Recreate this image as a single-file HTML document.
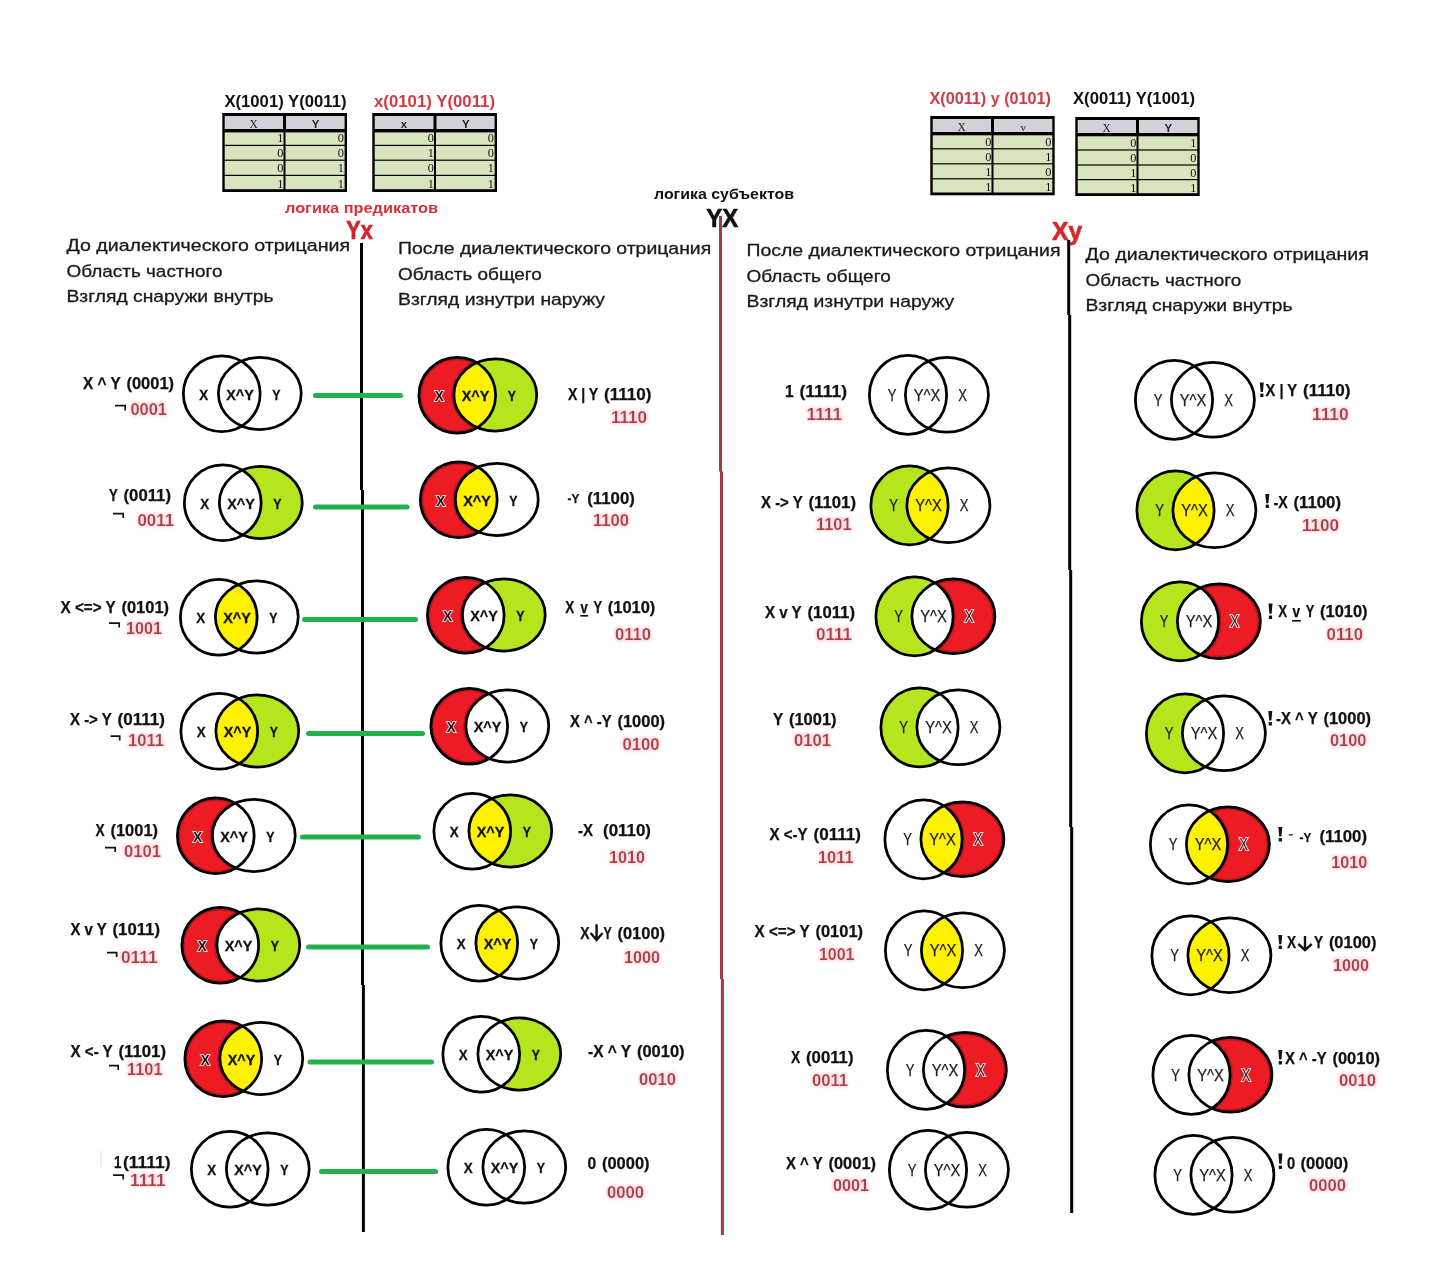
<!DOCTYPE html>
<html lang="ru">
<head>
<meta charset="utf-8">
<title>Логика предикатов и логика субъектов</title>
<style>
html, body { margin: 0; padding: 0; background: #ffffff; }
body { width: 1448px; height: 1263px; overflow: hidden; font-family: "Liberation Sans", sans-serif; }
svg { display: block; opacity: 0.9999; }
text { white-space: pre; }
</style>
</head>
<body>
<svg width="1448" height="1263" viewBox="0 0 1448 1263">
<defs>
<filter id="glow" x="-20%" y="-50%" width="140%" height="200%">
<feMorphology in="SourceAlpha" operator="dilate" radius="0.9" result="d"/>
<feGaussianBlur in="d" stdDeviation="1.5" result="b"/>
<feColorMatrix in="b" type="matrix" values="0 0 0 0 1  0 0 0 0 0.74  0 0 0 0 0.77  0 0 0 1.6 0" result="g"/>
<feMerge><feMergeNode in="g"/><feMergeNode in="SourceGraphic"/></feMerge>
</filter>
<clipPath id="c2"><ellipse cx="222.75" cy="502.75" rx="38.38" ry="37.88"/></clipPath>
<clipPath id="d2"><ellipse cx="260.80" cy="502.50" rx="41.42" ry="36.03"/></clipPath>
<clipPath id="c3"><ellipse cx="218.75" cy="617.25" rx="38.38" ry="37.88"/></clipPath>
<clipPath id="d3"><ellipse cx="256.80" cy="617.00" rx="41.42" ry="36.03"/></clipPath>
<clipPath id="c4"><ellipse cx="219.25" cy="731.25" rx="38.38" ry="37.88"/></clipPath>
<clipPath id="d4"><ellipse cx="257.30" cy="731.00" rx="41.42" ry="36.03"/></clipPath>
<clipPath id="c5"><ellipse cx="215.75" cy="835.75" rx="38.38" ry="37.88"/></clipPath>
<clipPath id="d5"><ellipse cx="253.80" cy="835.50" rx="41.42" ry="36.03"/></clipPath>
<clipPath id="c6"><ellipse cx="220.25" cy="945.25" rx="38.38" ry="37.88"/></clipPath>
<clipPath id="d6"><ellipse cx="258.30" cy="945.00" rx="41.42" ry="36.03"/></clipPath>
<clipPath id="c7"><ellipse cx="223.25" cy="1058.75" rx="38.38" ry="37.88"/></clipPath>
<clipPath id="d7"><ellipse cx="261.30" cy="1058.50" rx="41.42" ry="36.03"/></clipPath>
<clipPath id="c9"><ellipse cx="457.25" cy="395.25" rx="38.38" ry="37.88"/></clipPath>
<clipPath id="d9"><ellipse cx="495.30" cy="395.00" rx="41.42" ry="36.03"/></clipPath>
<clipPath id="c10"><ellipse cx="458.75" cy="499.75" rx="38.38" ry="37.88"/></clipPath>
<clipPath id="d10"><ellipse cx="496.80" cy="499.50" rx="41.42" ry="36.03"/></clipPath>
<clipPath id="c11"><ellipse cx="465.75" cy="615.25" rx="38.38" ry="37.88"/></clipPath>
<clipPath id="d11"><ellipse cx="503.80" cy="615.00" rx="41.42" ry="36.03"/></clipPath>
<clipPath id="c12"><ellipse cx="469.25" cy="726.25" rx="38.38" ry="37.88"/></clipPath>
<clipPath id="d12"><ellipse cx="507.30" cy="726.00" rx="41.42" ry="36.03"/></clipPath>
<clipPath id="c13"><ellipse cx="472.25" cy="831.25" rx="38.38" ry="37.88"/></clipPath>
<clipPath id="d13"><ellipse cx="510.30" cy="831.00" rx="41.42" ry="36.03"/></clipPath>
<clipPath id="c14"><ellipse cx="479.25" cy="943.25" rx="38.38" ry="37.88"/></clipPath>
<clipPath id="d14"><ellipse cx="517.30" cy="943.00" rx="41.42" ry="36.03"/></clipPath>
<clipPath id="c15"><ellipse cx="481.25" cy="1054.25" rx="38.38" ry="37.88"/></clipPath>
<clipPath id="d15"><ellipse cx="519.30" cy="1054.00" rx="41.42" ry="36.03"/></clipPath>
<clipPath id="c18"><ellipse cx="909.50" cy="505.40" rx="38.62" ry="39.42"/></clipPath>
<clipPath id="d18"><ellipse cx="948.40" cy="505.30" rx="41.52" ry="37.33"/></clipPath>
<clipPath id="c19"><ellipse cx="914.50" cy="616.40" rx="38.62" ry="39.42"/></clipPath>
<clipPath id="d19"><ellipse cx="953.40" cy="616.30" rx="41.52" ry="37.33"/></clipPath>
<clipPath id="c20"><ellipse cx="919.50" cy="727.40" rx="38.62" ry="39.42"/></clipPath>
<clipPath id="d20"><ellipse cx="958.40" cy="727.30" rx="41.52" ry="37.33"/></clipPath>
<clipPath id="c21"><ellipse cx="923.50" cy="839.40" rx="38.62" ry="39.42"/></clipPath>
<clipPath id="d21"><ellipse cx="962.40" cy="839.30" rx="41.52" ry="37.33"/></clipPath>
<clipPath id="c22"><ellipse cx="924.00" cy="950.40" rx="38.62" ry="39.42"/></clipPath>
<clipPath id="d22"><ellipse cx="962.90" cy="950.30" rx="41.52" ry="37.33"/></clipPath>
<clipPath id="c23"><ellipse cx="926.00" cy="1069.90" rx="38.62" ry="39.42"/></clipPath>
<clipPath id="d23"><ellipse cx="964.90" cy="1069.80" rx="41.52" ry="37.33"/></clipPath>
<clipPath id="c26"><ellipse cx="1175.50" cy="510.40" rx="38.62" ry="39.42"/></clipPath>
<clipPath id="d26"><ellipse cx="1214.40" cy="510.30" rx="41.52" ry="37.33"/></clipPath>
<clipPath id="c27"><ellipse cx="1180.00" cy="621.40" rx="38.62" ry="39.42"/></clipPath>
<clipPath id="d27"><ellipse cx="1218.90" cy="621.30" rx="41.52" ry="37.33"/></clipPath>
<clipPath id="c28"><ellipse cx="1185.00" cy="733.40" rx="38.62" ry="39.42"/></clipPath>
<clipPath id="d28"><ellipse cx="1223.90" cy="733.30" rx="41.52" ry="37.33"/></clipPath>
<clipPath id="c29"><ellipse cx="1189.00" cy="844.40" rx="38.62" ry="39.42"/></clipPath>
<clipPath id="d29"><ellipse cx="1227.90" cy="844.30" rx="41.52" ry="37.33"/></clipPath>
<clipPath id="c30"><ellipse cx="1190.50" cy="955.40" rx="38.62" ry="39.42"/></clipPath>
<clipPath id="d30"><ellipse cx="1229.40" cy="955.30" rx="41.52" ry="37.33"/></clipPath>
<clipPath id="c31"><ellipse cx="1191.50" cy="1074.90" rx="38.62" ry="39.42"/></clipPath>
<clipPath id="d31"><ellipse cx="1230.40" cy="1074.80" rx="41.52" ry="37.33"/></clipPath>
</defs>
<rect x="0" y="0" width="1448" height="1263" fill="#ffffff"/>
<rect x="222.3" y="113" width="124.69999999999999" height="79" fill="#000"/>
<rect x="224.70000000000002" y="116" width="58.29999999999999" height="13" fill="#d4d2d9"/>
<rect x="286" y="116" width="58.60000000000002" height="13" fill="#d4d2d9"/>
<rect x="224.70000000000002" y="132.40" width="58.80" height="12.40" fill="#d7e4bd"/>
<rect x="285.50" y="132.40" width="59.10" height="12.40" fill="#d7e4bd"/>
<text x="283.40" y="142.40" text-anchor="end" font-family="Liberation Serif" font-size="12.3" fill="#111">1</text>
<text x="343.80" y="142.40" text-anchor="end" font-family="Liberation Serif" font-size="12.3" fill="#111">0</text>
<rect x="224.70000000000002" y="146.00" width="58.80" height="13.60" fill="#d7e4bd"/>
<rect x="285.50" y="146.00" width="59.10" height="13.60" fill="#d7e4bd"/>
<text x="283.40" y="157.20" text-anchor="end" font-family="Liberation Serif" font-size="12.3" fill="#111">0</text>
<text x="343.80" y="157.20" text-anchor="end" font-family="Liberation Serif" font-size="12.3" fill="#111">0</text>
<rect x="224.70000000000002" y="160.80" width="58.80" height="14.00" fill="#d7e4bd"/>
<rect x="285.50" y="160.80" width="59.10" height="14.00" fill="#d7e4bd"/>
<text x="283.40" y="172.40" text-anchor="end" font-family="Liberation Serif" font-size="12.3" fill="#111">0</text>
<text x="343.80" y="172.40" text-anchor="end" font-family="Liberation Serif" font-size="12.3" fill="#111">1</text>
<rect x="224.70000000000002" y="176.00" width="58.80" height="13.20" fill="#d7e4bd"/>
<rect x="285.50" y="176.00" width="59.10" height="13.20" fill="#d7e4bd"/>
<text x="283.40" y="187.60" text-anchor="end" font-family="Liberation Serif" font-size="12.3" fill="#111">1</text>
<text x="343.80" y="187.60" text-anchor="end" font-family="Liberation Serif" font-size="12.3" fill="#111">1</text>
<text x="253.65" y="128.10" text-anchor="middle" font-family="Liberation Serif" font-size="11.5" font-weight="normal" fill="#222">X</text>
<text x="315.50" y="128.10" text-anchor="middle" font-family="Liberation Sans" font-size="11.5" font-weight="bold" fill="#222">Y</text>
<rect x="372.3" y="113" width="124.69999999999999" height="79" fill="#000"/>
<rect x="374.7" y="116" width="58.79999999999999" height="13" fill="#d4d2d9"/>
<rect x="436.5" y="116" width="58.10000000000002" height="13" fill="#d4d2d9"/>
<rect x="374.7" y="132.40" width="59.30" height="12.40" fill="#d7e4bd"/>
<rect x="436.00" y="132.40" width="58.60" height="12.40" fill="#d7e4bd"/>
<text x="433.90" y="142.40" text-anchor="end" font-family="Liberation Serif" font-size="12.3" fill="#111">0</text>
<text x="493.80" y="142.40" text-anchor="end" font-family="Liberation Serif" font-size="12.3" fill="#111">0</text>
<rect x="374.7" y="146.00" width="59.30" height="13.60" fill="#d7e4bd"/>
<rect x="436.00" y="146.00" width="58.60" height="13.60" fill="#d7e4bd"/>
<text x="433.90" y="157.20" text-anchor="end" font-family="Liberation Serif" font-size="12.3" fill="#111">1</text>
<text x="493.80" y="157.20" text-anchor="end" font-family="Liberation Serif" font-size="12.3" fill="#111">0</text>
<rect x="374.7" y="160.80" width="59.30" height="14.00" fill="#d7e4bd"/>
<rect x="436.00" y="160.80" width="58.60" height="14.00" fill="#d7e4bd"/>
<text x="433.90" y="172.40" text-anchor="end" font-family="Liberation Serif" font-size="12.3" fill="#111">0</text>
<text x="493.80" y="172.40" text-anchor="end" font-family="Liberation Serif" font-size="12.3" fill="#111">1</text>
<rect x="374.7" y="176.00" width="59.30" height="13.20" fill="#d7e4bd"/>
<rect x="436.00" y="176.00" width="58.60" height="13.20" fill="#d7e4bd"/>
<text x="433.90" y="187.60" text-anchor="end" font-family="Liberation Serif" font-size="12.3" fill="#111">1</text>
<text x="493.80" y="187.60" text-anchor="end" font-family="Liberation Serif" font-size="12.3" fill="#111">1</text>
<text x="403.90" y="128.10" text-anchor="middle" font-family="Liberation Sans" font-size="11.5" font-weight="bold" fill="#222">x</text>
<text x="465.75" y="128.10" text-anchor="middle" font-family="Liberation Sans" font-size="11.5" font-weight="bold" fill="#222">Y</text>
<rect x="930.3" y="116" width="124.40000000000009" height="79.30000000000001" fill="#000"/>
<rect x="932.6999999999999" y="119" width="58.30000000000005" height="13" fill="#d4d2d9"/>
<rect x="994" y="119" width="58.299999999999955" height="13" fill="#d4d2d9"/>
<rect x="932.6999999999999" y="135.30" width="58.80" height="12.90" fill="#d7e4bd"/>
<rect x="993.50" y="135.30" width="58.80" height="12.90" fill="#d7e4bd"/>
<text x="991.40" y="145.80" text-anchor="end" font-family="Liberation Serif" font-size="12.3" fill="#111">0</text>
<text x="1051.50" y="145.80" text-anchor="end" font-family="Liberation Serif" font-size="12.3" fill="#111">0</text>
<rect x="932.6999999999999" y="149.40" width="58.80" height="13.80" fill="#d7e4bd"/>
<rect x="993.50" y="149.40" width="58.80" height="13.80" fill="#d7e4bd"/>
<text x="991.40" y="160.80" text-anchor="end" font-family="Liberation Serif" font-size="12.3" fill="#111">0</text>
<text x="1051.50" y="160.80" text-anchor="end" font-family="Liberation Serif" font-size="12.3" fill="#111">1</text>
<rect x="932.6999999999999" y="164.40" width="58.80" height="13.80" fill="#d7e4bd"/>
<rect x="993.50" y="164.40" width="58.80" height="13.80" fill="#d7e4bd"/>
<text x="991.40" y="175.80" text-anchor="end" font-family="Liberation Serif" font-size="12.3" fill="#111">1</text>
<text x="1051.50" y="175.80" text-anchor="end" font-family="Liberation Serif" font-size="12.3" fill="#111">0</text>
<rect x="932.6999999999999" y="179.40" width="58.80" height="13.10" fill="#d7e4bd"/>
<rect x="993.50" y="179.40" width="58.80" height="13.10" fill="#d7e4bd"/>
<text x="991.40" y="190.90" text-anchor="end" font-family="Liberation Serif" font-size="12.3" fill="#111">1</text>
<text x="1051.50" y="190.90" text-anchor="end" font-family="Liberation Serif" font-size="12.3" fill="#111">1</text>
<text x="961.65" y="131.10" text-anchor="middle" font-family="Liberation Serif" font-size="11.5" font-weight="normal" fill="#222">X</text>
<text x="1023.35" y="131.10" text-anchor="middle" font-family="Liberation Serif" font-size="11" font-weight="normal" fill="#222">v</text>
<rect x="1075.3" y="117" width="124.40000000000009" height="79" fill="#000"/>
<rect x="1077.7" y="120" width="58.30000000000005" height="13" fill="#d4d2d9"/>
<rect x="1139" y="120" width="58.299999999999955" height="13" fill="#d4d2d9"/>
<rect x="1077.7" y="136.30" width="58.80" height="13.10" fill="#d7e4bd"/>
<rect x="1138.50" y="136.30" width="58.80" height="13.10" fill="#d7e4bd"/>
<text x="1136.40" y="147.00" text-anchor="end" font-family="Liberation Serif" font-size="12.3" fill="#111">0</text>
<text x="1196.50" y="147.00" text-anchor="end" font-family="Liberation Serif" font-size="12.3" fill="#111">1</text>
<rect x="1077.7" y="150.60" width="58.80" height="13.80" fill="#d7e4bd"/>
<rect x="1138.50" y="150.60" width="58.80" height="13.80" fill="#d7e4bd"/>
<text x="1136.40" y="162.00" text-anchor="end" font-family="Liberation Serif" font-size="12.3" fill="#111">0</text>
<text x="1196.50" y="162.00" text-anchor="end" font-family="Liberation Serif" font-size="12.3" fill="#111">0</text>
<rect x="1077.7" y="165.60" width="58.80" height="13.40" fill="#d7e4bd"/>
<rect x="1138.50" y="165.60" width="58.80" height="13.40" fill="#d7e4bd"/>
<text x="1136.40" y="176.60" text-anchor="end" font-family="Liberation Serif" font-size="12.3" fill="#111">1</text>
<text x="1196.50" y="176.60" text-anchor="end" font-family="Liberation Serif" font-size="12.3" fill="#111">0</text>
<rect x="1077.7" y="180.20" width="58.80" height="13.00" fill="#d7e4bd"/>
<rect x="1138.50" y="180.20" width="58.80" height="13.00" fill="#d7e4bd"/>
<text x="1136.40" y="191.60" text-anchor="end" font-family="Liberation Serif" font-size="12.3" fill="#111">1</text>
<text x="1196.50" y="191.60" text-anchor="end" font-family="Liberation Serif" font-size="12.3" fill="#111">1</text>
<text x="1106.65" y="132.10" text-anchor="middle" font-family="Liberation Serif" font-size="11.5" font-weight="normal" fill="#222">X</text>
<text x="1168.35" y="132.10" text-anchor="middle" font-family="Liberation Sans" font-size="11.5" font-weight="bold" fill="#222">Y</text>
<text x="224.40" y="107.20" font-family="Liberation Sans" font-size="15.6" font-weight="bold" fill="#111" textLength="122.10" lengthAdjust="spacingAndGlyphs">X(1001) Y(0011)</text>
<text x="374.00" y="107.20" font-family="Liberation Sans" font-size="15.6" font-weight="bold" fill="#cf3a45" textLength="121.00" lengthAdjust="spacingAndGlyphs">x(0101) Y(0011)</text>
<text x="929.50" y="103.50" font-family="Liberation Sans" font-size="15.6" font-weight="bold" fill="#cf3a45" textLength="121.50" lengthAdjust="spacingAndGlyphs">X(0011) y (0101)</text>
<text x="1073.00" y="103.50" font-family="Liberation Sans" font-size="15.6" font-weight="bold" fill="#111" textLength="122.00" lengthAdjust="spacingAndGlyphs">X(0011) Y(1001)</text>
<text x="285.00" y="212.50" font-family="Liberation Sans" font-size="15" font-weight="bold" fill="#d6323c" textLength="153.00" lengthAdjust="spacingAndGlyphs">логика предикатов</text>
<text x="346.30" y="239.00" font-family="Liberation Sans" font-size="25.6" font-weight="bold" fill="#d3232c" textLength="26.40" lengthAdjust="spacingAndGlyphs" stroke="#d3232c" stroke-width="0.7">Yx</text>
<text x="654.00" y="199.30" font-family="Liberation Sans" font-size="15" font-weight="bold" fill="#111" textLength="140.00" lengthAdjust="spacingAndGlyphs">логика субъектов</text>
<text x="706.30" y="226.60" font-family="Liberation Sans" font-size="25.5" font-weight="bold" fill="#111" textLength="31.90" lengthAdjust="spacingAndGlyphs" stroke="#111" stroke-width="0.6">YX</text>
<text x="1052.10" y="240.00" font-family="Liberation Sans" font-size="26" font-weight="bold" fill="#d9262e" textLength="30.10" lengthAdjust="spacingAndGlyphs" stroke="#d9262e" stroke-width="0.7">Xy</text>
<text x="66.50" y="251.20" font-family="Liberation Sans" font-size="16.8" font-weight="normal" fill="#1a1a1a" textLength="283.50" lengthAdjust="spacingAndGlyphs" stroke="#1a1a1a" stroke-width="0.3">До диалектического отрицания</text>
<text x="66.50" y="277.30" font-family="Liberation Sans" font-size="16.8" font-weight="normal" fill="#1a1a1a" textLength="156.00" lengthAdjust="spacingAndGlyphs" stroke="#1a1a1a" stroke-width="0.3">Область частного</text>
<text x="66.50" y="302.20" font-family="Liberation Sans" font-size="16.8" font-weight="normal" fill="#1a1a1a" textLength="207.00" lengthAdjust="spacingAndGlyphs" stroke="#1a1a1a" stroke-width="0.3">Взгляд снаружи внутрь</text>
<text x="398.00" y="253.70" font-family="Liberation Sans" font-size="16.8" font-weight="normal" fill="#1a1a1a" textLength="313.20" lengthAdjust="spacingAndGlyphs" stroke="#1a1a1a" stroke-width="0.3">После диалектического отрицания</text>
<text x="398.00" y="279.50" font-family="Liberation Sans" font-size="16.8" font-weight="normal" fill="#1a1a1a" textLength="143.80" lengthAdjust="spacingAndGlyphs" stroke="#1a1a1a" stroke-width="0.3">Область общего</text>
<text x="398.00" y="305.30" font-family="Liberation Sans" font-size="16.8" font-weight="normal" fill="#1a1a1a" textLength="207.00" lengthAdjust="spacingAndGlyphs" stroke="#1a1a1a" stroke-width="0.3">Взгляд изнутри наружу</text>
<text x="746.50" y="255.80" font-family="Liberation Sans" font-size="16.8" font-weight="normal" fill="#1a1a1a" textLength="314.00" lengthAdjust="spacingAndGlyphs" stroke="#1a1a1a" stroke-width="0.3">После диалектического отрицания</text>
<text x="746.50" y="281.80" font-family="Liberation Sans" font-size="16.8" font-weight="normal" fill="#1a1a1a" textLength="144.20" lengthAdjust="spacingAndGlyphs" stroke="#1a1a1a" stroke-width="0.3">Область общего</text>
<text x="746.50" y="307.40" font-family="Liberation Sans" font-size="16.8" font-weight="normal" fill="#1a1a1a" textLength="207.80" lengthAdjust="spacingAndGlyphs" stroke="#1a1a1a" stroke-width="0.3">Взгляд изнутри наружу</text>
<text x="1085.50" y="260.00" font-family="Liberation Sans" font-size="16.8" font-weight="normal" fill="#1a1a1a" textLength="283.30" lengthAdjust="spacingAndGlyphs" stroke="#1a1a1a" stroke-width="0.3">До диалектического отрицания</text>
<text x="1085.50" y="285.80" font-family="Liberation Sans" font-size="16.8" font-weight="normal" fill="#1a1a1a" textLength="155.80" lengthAdjust="spacingAndGlyphs" stroke="#1a1a1a" stroke-width="0.3">Область частного</text>
<text x="1085.50" y="310.80" font-family="Liberation Sans" font-size="16.8" font-weight="normal" fill="#1a1a1a" textLength="207.00" lengthAdjust="spacingAndGlyphs" stroke="#1a1a1a" stroke-width="0.3">Взгляд снаружи внутрь</text>
<path d="M361.5 243 V490 M362.5 490 V985 M363.4 985 V1232" stroke="#000" stroke-width="3" fill="none"/>
<path d="M720.5 216 V471.5 M721.5 471.5 V979 M722.4 979 V1235" stroke="#a03a46" stroke-width="3" fill="none"/>
<path d="M1068.7 240 V315 M1069.7 315 V570 M1070.7 570 V827 M1071.7 827 V1213" stroke="#000" stroke-width="3" fill="none"/>
<line x1="315.5" y1="395.5" x2="400.5" y2="395.5" stroke="#22b14c" stroke-width="5" stroke-linecap="round"/>
<line x1="315.5" y1="507" x2="407.0" y2="507" stroke="#22b14c" stroke-width="5" stroke-linecap="round"/>
<line x1="304.5" y1="619.5" x2="415.5" y2="619.5" stroke="#22b14c" stroke-width="5" stroke-linecap="round"/>
<line x1="308.5" y1="733.5" x2="422.5" y2="733.5" stroke="#22b14c" stroke-width="5" stroke-linecap="round"/>
<line x1="302.5" y1="837" x2="418.5" y2="837" stroke="#22b14c" stroke-width="5" stroke-linecap="round"/>
<line x1="308.5" y1="947" x2="427.5" y2="947" stroke="#22b14c" stroke-width="5" stroke-linecap="round"/>
<line x1="310.0" y1="1062" x2="431.5" y2="1062" stroke="#22b14c" stroke-width="5" stroke-linecap="round"/>
<line x1="321.5" y1="1171.5" x2="435.5" y2="1171.5" stroke="#22b14c" stroke-width="5" stroke-linecap="round"/>
<ellipse cx="221.75" cy="393.75" rx="38.38" ry="37.88" fill="none" stroke="#000" stroke-width="2.75"/>
<ellipse cx="259.80" cy="393.50" rx="41.42" ry="36.03" fill="none" stroke="#000" stroke-width="2.75"/>
<text x="199.30" y="399.50" font-family="Liberation Sans" font-size="14.6" font-weight="bold" fill="#111" textLength="8.90" lengthAdjust="spacingAndGlyphs" stroke="#111" stroke-width="0.3">X</text>
<text x="226.20" y="399.50" font-family="Liberation Sans" font-size="14.6" font-weight="bold" fill="#111" textLength="27.60" lengthAdjust="spacingAndGlyphs" stroke="#111" stroke-width="0.3">X^Y</text>
<text x="272.20" y="399.50" font-family="Liberation Sans" font-size="14.6" font-weight="bold" fill="#111" textLength="8.20" lengthAdjust="spacingAndGlyphs" stroke="#111" stroke-width="0.3">Y</text>
<ellipse cx="260.80" cy="502.50" rx="41.42" ry="36.03" fill="#b5e61d"/>
<ellipse cx="260.80" cy="502.50" rx="41.42" ry="36.03" fill="#ffffff" clip-path="url(#c2)"/>
<ellipse cx="222.75" cy="502.75" rx="38.38" ry="37.88" fill="none" stroke="#000" stroke-width="2.75"/>
<ellipse cx="260.80" cy="502.50" rx="41.42" ry="36.03" fill="none" stroke="#000" stroke-width="2.75"/>
<text x="200.30" y="508.50" font-family="Liberation Sans" font-size="14.6" font-weight="bold" fill="#111" textLength="8.90" lengthAdjust="spacingAndGlyphs" stroke="#111" stroke-width="0.3">X</text>
<text x="227.20" y="508.50" font-family="Liberation Sans" font-size="14.6" font-weight="bold" fill="#111" textLength="27.60" lengthAdjust="spacingAndGlyphs" stroke="#111" stroke-width="0.3">X^Y</text>
<text x="273.20" y="508.50" font-family="Liberation Sans" font-size="14.6" font-weight="bold" fill="#111" textLength="8.20" lengthAdjust="spacingAndGlyphs" stroke="#111" stroke-width="0.3">Y</text>
<ellipse cx="256.80" cy="617.00" rx="41.42" ry="36.03" fill="#fff200" clip-path="url(#c3)"/>
<ellipse cx="218.75" cy="617.25" rx="38.38" ry="37.88" fill="none" stroke="#000" stroke-width="2.75"/>
<ellipse cx="256.80" cy="617.00" rx="41.42" ry="36.03" fill="none" stroke="#000" stroke-width="2.75"/>
<text x="196.30" y="623.00" font-family="Liberation Sans" font-size="14.6" font-weight="bold" fill="#111" textLength="8.90" lengthAdjust="spacingAndGlyphs" stroke="#111" stroke-width="0.3">X</text>
<text x="223.20" y="623.00" font-family="Liberation Sans" font-size="14.6" font-weight="bold" fill="#111" textLength="27.60" lengthAdjust="spacingAndGlyphs" stroke="#111" stroke-width="0.3">X^Y</text>
<text x="269.20" y="623.00" font-family="Liberation Sans" font-size="14.6" font-weight="bold" fill="#111" textLength="8.20" lengthAdjust="spacingAndGlyphs" stroke="#111" stroke-width="0.3">Y</text>
<ellipse cx="257.30" cy="731.00" rx="41.42" ry="36.03" fill="#b5e61d"/>
<ellipse cx="257.30" cy="731.00" rx="41.42" ry="36.03" fill="#fff200" clip-path="url(#c4)"/>
<ellipse cx="219.25" cy="731.25" rx="38.38" ry="37.88" fill="none" stroke="#000" stroke-width="2.75"/>
<ellipse cx="257.30" cy="731.00" rx="41.42" ry="36.03" fill="none" stroke="#000" stroke-width="2.75"/>
<text x="196.80" y="737.00" font-family="Liberation Sans" font-size="14.6" font-weight="bold" fill="#111" textLength="8.90" lengthAdjust="spacingAndGlyphs" stroke="#111" stroke-width="0.3">X</text>
<text x="223.70" y="737.00" font-family="Liberation Sans" font-size="14.6" font-weight="bold" fill="#111" textLength="27.60" lengthAdjust="spacingAndGlyphs" stroke="#111" stroke-width="0.3">X^Y</text>
<text x="269.70" y="737.00" font-family="Liberation Sans" font-size="14.6" font-weight="bold" fill="#111" textLength="8.20" lengthAdjust="spacingAndGlyphs" stroke="#111" stroke-width="0.3">Y</text>
<ellipse cx="215.75" cy="835.75" rx="38.38" ry="37.88" fill="#ed1c24"/>
<g clip-path="url(#c5)" fill="none" stroke="#a8161d" stroke-width="5.6" opacity="0.75"><ellipse cx="215.75" cy="835.75" rx="38.38" ry="37.88"/><ellipse cx="253.80" cy="835.50" rx="41.42" ry="36.03"/></g>
<ellipse cx="253.80" cy="835.50" rx="41.42" ry="36.03" fill="#ffffff" clip-path="url(#c5)"/>
<ellipse cx="215.75" cy="835.75" rx="38.38" ry="37.88" fill="none" stroke="#000" stroke-width="2.75"/>
<ellipse cx="253.80" cy="835.50" rx="41.42" ry="36.03" fill="none" stroke="#000" stroke-width="2.75"/>
<text x="193.30" y="841.50" font-family="Liberation Sans" font-size="14.6" font-weight="bold" fill="#111" textLength="8.90" lengthAdjust="spacingAndGlyphs" stroke="#fbdcdc" stroke-width="1.9" paint-order="stroke" stroke-linejoin="miter">X</text>
<text x="220.20" y="841.50" font-family="Liberation Sans" font-size="14.6" font-weight="bold" fill="#111" textLength="27.60" lengthAdjust="spacingAndGlyphs" stroke="#111" stroke-width="0.3">X^Y</text>
<text x="266.20" y="841.50" font-family="Liberation Sans" font-size="14.6" font-weight="bold" fill="#111" textLength="8.20" lengthAdjust="spacingAndGlyphs" stroke="#111" stroke-width="0.3">Y</text>
<ellipse cx="220.25" cy="945.25" rx="38.38" ry="37.88" fill="#ed1c24"/>
<g clip-path="url(#c6)" fill="none" stroke="#a8161d" stroke-width="5.6" opacity="0.75"><ellipse cx="220.25" cy="945.25" rx="38.38" ry="37.88"/><ellipse cx="258.30" cy="945.00" rx="41.42" ry="36.03"/></g>
<ellipse cx="258.30" cy="945.00" rx="41.42" ry="36.03" fill="#b5e61d"/>
<ellipse cx="258.30" cy="945.00" rx="41.42" ry="36.03" fill="#ffffff" clip-path="url(#c6)"/>
<ellipse cx="220.25" cy="945.25" rx="38.38" ry="37.88" fill="none" stroke="#000" stroke-width="2.75"/>
<ellipse cx="258.30" cy="945.00" rx="41.42" ry="36.03" fill="none" stroke="#000" stroke-width="2.75"/>
<text x="197.80" y="951.00" font-family="Liberation Sans" font-size="14.6" font-weight="bold" fill="#111" textLength="8.90" lengthAdjust="spacingAndGlyphs" stroke="#fbdcdc" stroke-width="1.9" paint-order="stroke" stroke-linejoin="miter">X</text>
<text x="224.70" y="951.00" font-family="Liberation Sans" font-size="14.6" font-weight="bold" fill="#111" textLength="27.60" lengthAdjust="spacingAndGlyphs" stroke="#111" stroke-width="0.3">X^Y</text>
<text x="270.70" y="951.00" font-family="Liberation Sans" font-size="14.6" font-weight="bold" fill="#111" textLength="8.20" lengthAdjust="spacingAndGlyphs" stroke="#111" stroke-width="0.3">Y</text>
<ellipse cx="223.25" cy="1058.75" rx="38.38" ry="37.88" fill="#ed1c24"/>
<g clip-path="url(#c7)" fill="none" stroke="#a8161d" stroke-width="5.6" opacity="0.75"><ellipse cx="223.25" cy="1058.75" rx="38.38" ry="37.88"/><ellipse cx="261.30" cy="1058.50" rx="41.42" ry="36.03"/></g>
<ellipse cx="261.30" cy="1058.50" rx="41.42" ry="36.03" fill="#fff200" clip-path="url(#c7)"/>
<ellipse cx="223.25" cy="1058.75" rx="38.38" ry="37.88" fill="none" stroke="#000" stroke-width="2.75"/>
<ellipse cx="261.30" cy="1058.50" rx="41.42" ry="36.03" fill="none" stroke="#000" stroke-width="2.75"/>
<text x="200.80" y="1064.50" font-family="Liberation Sans" font-size="14.6" font-weight="bold" fill="#111" textLength="8.90" lengthAdjust="spacingAndGlyphs" stroke="#fbdcdc" stroke-width="1.9" paint-order="stroke" stroke-linejoin="miter">X</text>
<text x="227.70" y="1064.50" font-family="Liberation Sans" font-size="14.6" font-weight="bold" fill="#111" textLength="27.60" lengthAdjust="spacingAndGlyphs" stroke="#111" stroke-width="0.3">X^Y</text>
<text x="273.70" y="1064.50" font-family="Liberation Sans" font-size="14.6" font-weight="bold" fill="#111" textLength="8.20" lengthAdjust="spacingAndGlyphs" stroke="#111" stroke-width="0.3">Y</text>
<ellipse cx="229.75" cy="1169.25" rx="38.38" ry="37.88" fill="none" stroke="#000" stroke-width="2.75"/>
<ellipse cx="267.80" cy="1169.00" rx="41.42" ry="36.03" fill="none" stroke="#000" stroke-width="2.75"/>
<text x="207.30" y="1175.00" font-family="Liberation Sans" font-size="14.6" font-weight="bold" fill="#111" textLength="8.90" lengthAdjust="spacingAndGlyphs" stroke="#111" stroke-width="0.3">X</text>
<text x="234.20" y="1175.00" font-family="Liberation Sans" font-size="14.6" font-weight="bold" fill="#111" textLength="27.60" lengthAdjust="spacingAndGlyphs" stroke="#111" stroke-width="0.3">X^Y</text>
<text x="280.20" y="1175.00" font-family="Liberation Sans" font-size="14.6" font-weight="bold" fill="#111" textLength="8.20" lengthAdjust="spacingAndGlyphs" stroke="#111" stroke-width="0.3">Y</text>
<ellipse cx="457.25" cy="395.25" rx="38.38" ry="37.88" fill="#ed1c24"/>
<g clip-path="url(#c9)" fill="none" stroke="#a8161d" stroke-width="5.6" opacity="0.75"><ellipse cx="457.25" cy="395.25" rx="38.38" ry="37.88"/><ellipse cx="495.30" cy="395.00" rx="41.42" ry="36.03"/></g>
<ellipse cx="495.30" cy="395.00" rx="41.42" ry="36.03" fill="#b5e61d"/>
<ellipse cx="495.30" cy="395.00" rx="41.42" ry="36.03" fill="#fff200" clip-path="url(#c9)"/>
<ellipse cx="457.25" cy="395.25" rx="38.38" ry="37.88" fill="none" stroke="#000" stroke-width="2.75"/>
<ellipse cx="495.30" cy="395.00" rx="41.42" ry="36.03" fill="none" stroke="#000" stroke-width="2.75"/>
<text x="434.80" y="401.00" font-family="Liberation Sans" font-size="14.6" font-weight="bold" fill="#111" textLength="8.90" lengthAdjust="spacingAndGlyphs" stroke="#fbdcdc" stroke-width="1.9" paint-order="stroke" stroke-linejoin="miter">X</text>
<text x="461.70" y="401.00" font-family="Liberation Sans" font-size="14.6" font-weight="bold" fill="#111" textLength="27.60" lengthAdjust="spacingAndGlyphs" stroke="#111" stroke-width="0.3">X^Y</text>
<text x="507.70" y="401.00" font-family="Liberation Sans" font-size="14.6" font-weight="bold" fill="#111" textLength="8.20" lengthAdjust="spacingAndGlyphs" stroke="#111" stroke-width="0.3">Y</text>
<ellipse cx="458.75" cy="499.75" rx="38.38" ry="37.88" fill="#ed1c24"/>
<g clip-path="url(#c10)" fill="none" stroke="#a8161d" stroke-width="5.6" opacity="0.75"><ellipse cx="458.75" cy="499.75" rx="38.38" ry="37.88"/><ellipse cx="496.80" cy="499.50" rx="41.42" ry="36.03"/></g>
<ellipse cx="496.80" cy="499.50" rx="41.42" ry="36.03" fill="#fff200" clip-path="url(#c10)"/>
<ellipse cx="458.75" cy="499.75" rx="38.38" ry="37.88" fill="none" stroke="#000" stroke-width="2.75"/>
<ellipse cx="496.80" cy="499.50" rx="41.42" ry="36.03" fill="none" stroke="#000" stroke-width="2.75"/>
<text x="436.30" y="505.50" font-family="Liberation Sans" font-size="14.6" font-weight="bold" fill="#111" textLength="8.90" lengthAdjust="spacingAndGlyphs" stroke="#fbdcdc" stroke-width="1.9" paint-order="stroke" stroke-linejoin="miter">X</text>
<text x="463.20" y="505.50" font-family="Liberation Sans" font-size="14.6" font-weight="bold" fill="#111" textLength="27.60" lengthAdjust="spacingAndGlyphs" stroke="#111" stroke-width="0.3">X^Y</text>
<text x="509.20" y="505.50" font-family="Liberation Sans" font-size="14.6" font-weight="bold" fill="#111" textLength="8.20" lengthAdjust="spacingAndGlyphs" stroke="#111" stroke-width="0.3">Y</text>
<ellipse cx="465.75" cy="615.25" rx="38.38" ry="37.88" fill="#ed1c24"/>
<g clip-path="url(#c11)" fill="none" stroke="#a8161d" stroke-width="5.6" opacity="0.75"><ellipse cx="465.75" cy="615.25" rx="38.38" ry="37.88"/><ellipse cx="503.80" cy="615.00" rx="41.42" ry="36.03"/></g>
<ellipse cx="503.80" cy="615.00" rx="41.42" ry="36.03" fill="#b5e61d"/>
<ellipse cx="503.80" cy="615.00" rx="41.42" ry="36.03" fill="#ffffff" clip-path="url(#c11)"/>
<ellipse cx="465.75" cy="615.25" rx="38.38" ry="37.88" fill="none" stroke="#000" stroke-width="2.75"/>
<ellipse cx="503.80" cy="615.00" rx="41.42" ry="36.03" fill="none" stroke="#000" stroke-width="2.75"/>
<text x="443.30" y="621.00" font-family="Liberation Sans" font-size="14.6" font-weight="bold" fill="#111" textLength="8.90" lengthAdjust="spacingAndGlyphs" stroke="#fbdcdc" stroke-width="1.9" paint-order="stroke" stroke-linejoin="miter">X</text>
<text x="470.20" y="621.00" font-family="Liberation Sans" font-size="14.6" font-weight="bold" fill="#111" textLength="27.60" lengthAdjust="spacingAndGlyphs" stroke="#111" stroke-width="0.3">X^Y</text>
<text x="516.20" y="621.00" font-family="Liberation Sans" font-size="14.6" font-weight="bold" fill="#111" textLength="8.20" lengthAdjust="spacingAndGlyphs" stroke="#111" stroke-width="0.3">Y</text>
<ellipse cx="469.25" cy="726.25" rx="38.38" ry="37.88" fill="#ed1c24"/>
<g clip-path="url(#c12)" fill="none" stroke="#a8161d" stroke-width="5.6" opacity="0.75"><ellipse cx="469.25" cy="726.25" rx="38.38" ry="37.88"/><ellipse cx="507.30" cy="726.00" rx="41.42" ry="36.03"/></g>
<ellipse cx="507.30" cy="726.00" rx="41.42" ry="36.03" fill="#ffffff" clip-path="url(#c12)"/>
<ellipse cx="469.25" cy="726.25" rx="38.38" ry="37.88" fill="none" stroke="#000" stroke-width="2.75"/>
<ellipse cx="507.30" cy="726.00" rx="41.42" ry="36.03" fill="none" stroke="#000" stroke-width="2.75"/>
<text x="446.80" y="732.00" font-family="Liberation Sans" font-size="14.6" font-weight="bold" fill="#111" textLength="8.90" lengthAdjust="spacingAndGlyphs" stroke="#fbdcdc" stroke-width="1.9" paint-order="stroke" stroke-linejoin="miter">X</text>
<text x="473.70" y="732.00" font-family="Liberation Sans" font-size="14.6" font-weight="bold" fill="#111" textLength="27.60" lengthAdjust="spacingAndGlyphs" stroke="#111" stroke-width="0.3">X^Y</text>
<text x="519.70" y="732.00" font-family="Liberation Sans" font-size="14.6" font-weight="bold" fill="#111" textLength="8.20" lengthAdjust="spacingAndGlyphs" stroke="#111" stroke-width="0.3">Y</text>
<ellipse cx="510.30" cy="831.00" rx="41.42" ry="36.03" fill="#b5e61d"/>
<ellipse cx="510.30" cy="831.00" rx="41.42" ry="36.03" fill="#fff200" clip-path="url(#c13)"/>
<ellipse cx="472.25" cy="831.25" rx="38.38" ry="37.88" fill="none" stroke="#000" stroke-width="2.75"/>
<ellipse cx="510.30" cy="831.00" rx="41.42" ry="36.03" fill="none" stroke="#000" stroke-width="2.75"/>
<text x="449.80" y="837.00" font-family="Liberation Sans" font-size="14.6" font-weight="bold" fill="#111" textLength="8.90" lengthAdjust="spacingAndGlyphs" stroke="#111" stroke-width="0.3">X</text>
<text x="476.70" y="837.00" font-family="Liberation Sans" font-size="14.6" font-weight="bold" fill="#111" textLength="27.60" lengthAdjust="spacingAndGlyphs" stroke="#111" stroke-width="0.3">X^Y</text>
<text x="522.70" y="837.00" font-family="Liberation Sans" font-size="14.6" font-weight="bold" fill="#111" textLength="8.20" lengthAdjust="spacingAndGlyphs" stroke="#111" stroke-width="0.3">Y</text>
<ellipse cx="517.30" cy="943.00" rx="41.42" ry="36.03" fill="#fff200" clip-path="url(#c14)"/>
<ellipse cx="479.25" cy="943.25" rx="38.38" ry="37.88" fill="none" stroke="#000" stroke-width="2.75"/>
<ellipse cx="517.30" cy="943.00" rx="41.42" ry="36.03" fill="none" stroke="#000" stroke-width="2.75"/>
<text x="456.80" y="949.00" font-family="Liberation Sans" font-size="14.6" font-weight="bold" fill="#111" textLength="8.90" lengthAdjust="spacingAndGlyphs" stroke="#111" stroke-width="0.3">X</text>
<text x="483.70" y="949.00" font-family="Liberation Sans" font-size="14.6" font-weight="bold" fill="#111" textLength="27.60" lengthAdjust="spacingAndGlyphs" stroke="#111" stroke-width="0.3">X^Y</text>
<text x="529.70" y="949.00" font-family="Liberation Sans" font-size="14.6" font-weight="bold" fill="#111" textLength="8.20" lengthAdjust="spacingAndGlyphs" stroke="#111" stroke-width="0.3">Y</text>
<ellipse cx="519.30" cy="1054.00" rx="41.42" ry="36.03" fill="#b5e61d"/>
<ellipse cx="519.30" cy="1054.00" rx="41.42" ry="36.03" fill="#ffffff" clip-path="url(#c15)"/>
<ellipse cx="481.25" cy="1054.25" rx="38.38" ry="37.88" fill="none" stroke="#000" stroke-width="2.75"/>
<ellipse cx="519.30" cy="1054.00" rx="41.42" ry="36.03" fill="none" stroke="#000" stroke-width="2.75"/>
<text x="458.80" y="1060.00" font-family="Liberation Sans" font-size="14.6" font-weight="bold" fill="#111" textLength="8.90" lengthAdjust="spacingAndGlyphs" stroke="#111" stroke-width="0.3">X</text>
<text x="485.70" y="1060.00" font-family="Liberation Sans" font-size="14.6" font-weight="bold" fill="#111" textLength="27.60" lengthAdjust="spacingAndGlyphs" stroke="#111" stroke-width="0.3">X^Y</text>
<text x="531.70" y="1060.00" font-family="Liberation Sans" font-size="14.6" font-weight="bold" fill="#111" textLength="8.20" lengthAdjust="spacingAndGlyphs" stroke="#111" stroke-width="0.3">Y</text>
<ellipse cx="486.25" cy="1167.25" rx="38.38" ry="37.88" fill="none" stroke="#000" stroke-width="2.75"/>
<ellipse cx="524.30" cy="1167.00" rx="41.42" ry="36.03" fill="none" stroke="#000" stroke-width="2.75"/>
<text x="463.80" y="1173.00" font-family="Liberation Sans" font-size="14.6" font-weight="bold" fill="#111" textLength="8.90" lengthAdjust="spacingAndGlyphs" stroke="#111" stroke-width="0.3">X</text>
<text x="490.70" y="1173.00" font-family="Liberation Sans" font-size="14.6" font-weight="bold" fill="#111" textLength="27.60" lengthAdjust="spacingAndGlyphs" stroke="#111" stroke-width="0.3">X^Y</text>
<text x="536.70" y="1173.00" font-family="Liberation Sans" font-size="14.6" font-weight="bold" fill="#111" textLength="8.20" lengthAdjust="spacingAndGlyphs" stroke="#111" stroke-width="0.3">Y</text>
<ellipse cx="908.00" cy="394.90" rx="38.62" ry="39.42" fill="none" stroke="#000" stroke-width="2.75"/>
<ellipse cx="946.90" cy="394.80" rx="41.52" ry="37.33" fill="none" stroke="#000" stroke-width="2.75"/>
<text x="887.80" y="400.50" font-family="Liberation Sans" font-size="15.6" font-weight="normal" fill="#1a1a1a" textLength="8.70" lengthAdjust="spacingAndGlyphs" stroke="#222" stroke-width="0.25">Y</text>
<text x="913.70" y="400.50" font-family="Liberation Sans" font-size="15.6" font-weight="normal" fill="#1a1a1a" textLength="26.60" lengthAdjust="spacingAndGlyphs" stroke="#222" stroke-width="0.25">Y^X</text>
<text x="958.20" y="400.50" font-family="Liberation Sans" font-size="15.6" font-weight="normal" fill="#1a1a1a" textLength="8.70" lengthAdjust="spacingAndGlyphs" stroke="#222" stroke-width="0.25">X</text>
<ellipse cx="909.50" cy="505.40" rx="38.62" ry="39.42" fill="#b5e61d"/>
<ellipse cx="948.40" cy="505.30" rx="41.52" ry="37.33" fill="#fff200" clip-path="url(#c18)"/>
<ellipse cx="909.50" cy="505.40" rx="38.62" ry="39.42" fill="none" stroke="#000" stroke-width="2.75"/>
<ellipse cx="948.40" cy="505.30" rx="41.52" ry="37.33" fill="none" stroke="#000" stroke-width="2.75"/>
<text x="889.30" y="511.00" font-family="Liberation Sans" font-size="15.6" font-weight="normal" fill="#1a1a1a" textLength="8.70" lengthAdjust="spacingAndGlyphs" stroke="#222" stroke-width="0.25">Y</text>
<text x="915.20" y="511.00" font-family="Liberation Sans" font-size="15.6" font-weight="normal" fill="#1a1a1a" textLength="26.60" lengthAdjust="spacingAndGlyphs" stroke="#222" stroke-width="0.25">Y^X</text>
<text x="959.70" y="511.00" font-family="Liberation Sans" font-size="15.6" font-weight="normal" fill="#1a1a1a" textLength="8.70" lengthAdjust="spacingAndGlyphs" stroke="#222" stroke-width="0.25">X</text>
<ellipse cx="914.50" cy="616.40" rx="38.62" ry="39.42" fill="#b5e61d"/>
<ellipse cx="953.40" cy="616.30" rx="41.52" ry="37.33" fill="#ed1c24"/>
<g clip-path="url(#d19)" fill="none" stroke="#a8161d" stroke-width="5.6" opacity="0.75"><ellipse cx="914.50" cy="616.40" rx="38.62" ry="39.42"/><ellipse cx="953.40" cy="616.30" rx="41.52" ry="37.33"/></g>
<ellipse cx="953.40" cy="616.30" rx="41.52" ry="37.33" fill="#ffffff" clip-path="url(#c19)"/>
<ellipse cx="914.50" cy="616.40" rx="38.62" ry="39.42" fill="none" stroke="#000" stroke-width="2.75"/>
<ellipse cx="953.40" cy="616.30" rx="41.52" ry="37.33" fill="none" stroke="#000" stroke-width="2.75"/>
<text x="894.30" y="622.00" font-family="Liberation Sans" font-size="15.6" font-weight="normal" fill="#1a1a1a" textLength="8.70" lengthAdjust="spacingAndGlyphs" stroke="#222" stroke-width="0.25">Y</text>
<text x="920.20" y="622.00" font-family="Liberation Sans" font-size="15.6" font-weight="normal" fill="#1a1a1a" textLength="26.60" lengthAdjust="spacingAndGlyphs" stroke="#222" stroke-width="0.25">Y^X</text>
<text x="964.70" y="622.00" font-family="Liberation Sans" font-size="15.6" font-weight="normal" fill="#1a1a1a" textLength="8.70" lengthAdjust="spacingAndGlyphs" stroke="#fbdcdc" stroke-width="2.2" paint-order="stroke" stroke-linejoin="miter">X</text>
<ellipse cx="919.50" cy="727.40" rx="38.62" ry="39.42" fill="#b5e61d"/>
<ellipse cx="958.40" cy="727.30" rx="41.52" ry="37.33" fill="#ffffff" clip-path="url(#c20)"/>
<ellipse cx="919.50" cy="727.40" rx="38.62" ry="39.42" fill="none" stroke="#000" stroke-width="2.75"/>
<ellipse cx="958.40" cy="727.30" rx="41.52" ry="37.33" fill="none" stroke="#000" stroke-width="2.75"/>
<text x="899.30" y="733.00" font-family="Liberation Sans" font-size="15.6" font-weight="normal" fill="#1a1a1a" textLength="8.70" lengthAdjust="spacingAndGlyphs" stroke="#222" stroke-width="0.25">Y</text>
<text x="925.20" y="733.00" font-family="Liberation Sans" font-size="15.6" font-weight="normal" fill="#1a1a1a" textLength="26.60" lengthAdjust="spacingAndGlyphs" stroke="#222" stroke-width="0.25">Y^X</text>
<text x="969.70" y="733.00" font-family="Liberation Sans" font-size="15.6" font-weight="normal" fill="#1a1a1a" textLength="8.70" lengthAdjust="spacingAndGlyphs" stroke="#222" stroke-width="0.25">X</text>
<ellipse cx="962.40" cy="839.30" rx="41.52" ry="37.33" fill="#ed1c24"/>
<g clip-path="url(#d21)" fill="none" stroke="#a8161d" stroke-width="5.6" opacity="0.75"><ellipse cx="923.50" cy="839.40" rx="38.62" ry="39.42"/><ellipse cx="962.40" cy="839.30" rx="41.52" ry="37.33"/></g>
<ellipse cx="962.40" cy="839.30" rx="41.52" ry="37.33" fill="#fff200" clip-path="url(#c21)"/>
<ellipse cx="923.50" cy="839.40" rx="38.62" ry="39.42" fill="none" stroke="#000" stroke-width="2.75"/>
<ellipse cx="962.40" cy="839.30" rx="41.52" ry="37.33" fill="none" stroke="#000" stroke-width="2.75"/>
<text x="903.30" y="845.00" font-family="Liberation Sans" font-size="15.6" font-weight="normal" fill="#1a1a1a" textLength="8.70" lengthAdjust="spacingAndGlyphs" stroke="#222" stroke-width="0.25">Y</text>
<text x="929.20" y="845.00" font-family="Liberation Sans" font-size="15.6" font-weight="normal" fill="#1a1a1a" textLength="26.60" lengthAdjust="spacingAndGlyphs" stroke="#222" stroke-width="0.25">Y^X</text>
<text x="973.70" y="845.00" font-family="Liberation Sans" font-size="15.6" font-weight="normal" fill="#1a1a1a" textLength="8.70" lengthAdjust="spacingAndGlyphs" stroke="#fbdcdc" stroke-width="2.2" paint-order="stroke" stroke-linejoin="miter">X</text>
<ellipse cx="962.90" cy="950.30" rx="41.52" ry="37.33" fill="#fff200" clip-path="url(#c22)"/>
<ellipse cx="924.00" cy="950.40" rx="38.62" ry="39.42" fill="none" stroke="#000" stroke-width="2.75"/>
<ellipse cx="962.90" cy="950.30" rx="41.52" ry="37.33" fill="none" stroke="#000" stroke-width="2.75"/>
<text x="903.80" y="956.00" font-family="Liberation Sans" font-size="15.6" font-weight="normal" fill="#1a1a1a" textLength="8.70" lengthAdjust="spacingAndGlyphs" stroke="#222" stroke-width="0.25">Y</text>
<text x="929.70" y="956.00" font-family="Liberation Sans" font-size="15.6" font-weight="normal" fill="#1a1a1a" textLength="26.60" lengthAdjust="spacingAndGlyphs" stroke="#222" stroke-width="0.25">Y^X</text>
<text x="974.20" y="956.00" font-family="Liberation Sans" font-size="15.6" font-weight="normal" fill="#1a1a1a" textLength="8.70" lengthAdjust="spacingAndGlyphs" stroke="#222" stroke-width="0.25">X</text>
<ellipse cx="964.90" cy="1069.80" rx="41.52" ry="37.33" fill="#ed1c24"/>
<g clip-path="url(#d23)" fill="none" stroke="#a8161d" stroke-width="5.6" opacity="0.75"><ellipse cx="926.00" cy="1069.90" rx="38.62" ry="39.42"/><ellipse cx="964.90" cy="1069.80" rx="41.52" ry="37.33"/></g>
<ellipse cx="964.90" cy="1069.80" rx="41.52" ry="37.33" fill="#ffffff" clip-path="url(#c23)"/>
<ellipse cx="926.00" cy="1069.90" rx="38.62" ry="39.42" fill="none" stroke="#000" stroke-width="2.75"/>
<ellipse cx="964.90" cy="1069.80" rx="41.52" ry="37.33" fill="none" stroke="#000" stroke-width="2.75"/>
<text x="905.80" y="1075.50" font-family="Liberation Sans" font-size="15.6" font-weight="normal" fill="#1a1a1a" textLength="8.70" lengthAdjust="spacingAndGlyphs" stroke="#222" stroke-width="0.25">Y</text>
<text x="931.70" y="1075.50" font-family="Liberation Sans" font-size="15.6" font-weight="normal" fill="#1a1a1a" textLength="26.60" lengthAdjust="spacingAndGlyphs" stroke="#222" stroke-width="0.25">Y^X</text>
<text x="976.20" y="1075.50" font-family="Liberation Sans" font-size="15.6" font-weight="normal" fill="#1a1a1a" textLength="8.70" lengthAdjust="spacingAndGlyphs" stroke="#fbdcdc" stroke-width="2.2" paint-order="stroke" stroke-linejoin="miter">X</text>
<ellipse cx="928.00" cy="1169.90" rx="38.62" ry="39.42" fill="none" stroke="#000" stroke-width="2.75"/>
<ellipse cx="966.90" cy="1169.80" rx="41.52" ry="37.33" fill="none" stroke="#000" stroke-width="2.75"/>
<text x="907.80" y="1175.50" font-family="Liberation Sans" font-size="15.6" font-weight="normal" fill="#1a1a1a" textLength="8.70" lengthAdjust="spacingAndGlyphs" stroke="#222" stroke-width="0.25">Y</text>
<text x="933.70" y="1175.50" font-family="Liberation Sans" font-size="15.6" font-weight="normal" fill="#1a1a1a" textLength="26.60" lengthAdjust="spacingAndGlyphs" stroke="#222" stroke-width="0.25">Y^X</text>
<text x="978.20" y="1175.50" font-family="Liberation Sans" font-size="15.6" font-weight="normal" fill="#1a1a1a" textLength="8.70" lengthAdjust="spacingAndGlyphs" stroke="#222" stroke-width="0.25">X</text>
<ellipse cx="1174.00" cy="399.90" rx="38.62" ry="39.42" fill="none" stroke="#000" stroke-width="2.75"/>
<ellipse cx="1212.90" cy="399.80" rx="41.52" ry="37.33" fill="none" stroke="#000" stroke-width="2.75"/>
<text x="1153.80" y="405.50" font-family="Liberation Sans" font-size="15.6" font-weight="normal" fill="#1a1a1a" textLength="8.70" lengthAdjust="spacingAndGlyphs" stroke="#222" stroke-width="0.25">Y</text>
<text x="1179.70" y="405.50" font-family="Liberation Sans" font-size="15.6" font-weight="normal" fill="#1a1a1a" textLength="26.60" lengthAdjust="spacingAndGlyphs" stroke="#222" stroke-width="0.25">Y^X</text>
<text x="1224.20" y="405.50" font-family="Liberation Sans" font-size="15.6" font-weight="normal" fill="#1a1a1a" textLength="8.70" lengthAdjust="spacingAndGlyphs" stroke="#222" stroke-width="0.25">X</text>
<ellipse cx="1175.50" cy="510.40" rx="38.62" ry="39.42" fill="#b5e61d"/>
<ellipse cx="1214.40" cy="510.30" rx="41.52" ry="37.33" fill="#fff200" clip-path="url(#c26)"/>
<ellipse cx="1175.50" cy="510.40" rx="38.62" ry="39.42" fill="none" stroke="#000" stroke-width="2.75"/>
<ellipse cx="1214.40" cy="510.30" rx="41.52" ry="37.33" fill="none" stroke="#000" stroke-width="2.75"/>
<text x="1155.30" y="516.00" font-family="Liberation Sans" font-size="15.6" font-weight="normal" fill="#1a1a1a" textLength="8.70" lengthAdjust="spacingAndGlyphs" stroke="#222" stroke-width="0.25">Y</text>
<text x="1181.20" y="516.00" font-family="Liberation Sans" font-size="15.6" font-weight="normal" fill="#1a1a1a" textLength="26.60" lengthAdjust="spacingAndGlyphs" stroke="#222" stroke-width="0.25">Y^X</text>
<text x="1225.70" y="516.00" font-family="Liberation Sans" font-size="15.6" font-weight="normal" fill="#1a1a1a" textLength="8.70" lengthAdjust="spacingAndGlyphs" stroke="#222" stroke-width="0.25">X</text>
<ellipse cx="1180.00" cy="621.40" rx="38.62" ry="39.42" fill="#b5e61d"/>
<ellipse cx="1218.90" cy="621.30" rx="41.52" ry="37.33" fill="#ed1c24"/>
<g clip-path="url(#d27)" fill="none" stroke="#a8161d" stroke-width="5.6" opacity="0.75"><ellipse cx="1180.00" cy="621.40" rx="38.62" ry="39.42"/><ellipse cx="1218.90" cy="621.30" rx="41.52" ry="37.33"/></g>
<ellipse cx="1218.90" cy="621.30" rx="41.52" ry="37.33" fill="#ffffff" clip-path="url(#c27)"/>
<ellipse cx="1180.00" cy="621.40" rx="38.62" ry="39.42" fill="none" stroke="#000" stroke-width="2.75"/>
<ellipse cx="1218.90" cy="621.30" rx="41.52" ry="37.33" fill="none" stroke="#000" stroke-width="2.75"/>
<text x="1159.80" y="627.00" font-family="Liberation Sans" font-size="15.6" font-weight="normal" fill="#1a1a1a" textLength="8.70" lengthAdjust="spacingAndGlyphs" stroke="#222" stroke-width="0.25">Y</text>
<text x="1185.70" y="627.00" font-family="Liberation Sans" font-size="15.6" font-weight="normal" fill="#1a1a1a" textLength="26.60" lengthAdjust="spacingAndGlyphs" stroke="#222" stroke-width="0.25">Y^X</text>
<text x="1230.20" y="627.00" font-family="Liberation Sans" font-size="15.6" font-weight="normal" fill="#1a1a1a" textLength="8.70" lengthAdjust="spacingAndGlyphs" stroke="#fbdcdc" stroke-width="2.2" paint-order="stroke" stroke-linejoin="miter">X</text>
<ellipse cx="1185.00" cy="733.40" rx="38.62" ry="39.42" fill="#b5e61d"/>
<ellipse cx="1223.90" cy="733.30" rx="41.52" ry="37.33" fill="#ffffff" clip-path="url(#c28)"/>
<ellipse cx="1185.00" cy="733.40" rx="38.62" ry="39.42" fill="none" stroke="#000" stroke-width="2.75"/>
<ellipse cx="1223.90" cy="733.30" rx="41.52" ry="37.33" fill="none" stroke="#000" stroke-width="2.75"/>
<text x="1164.80" y="739.00" font-family="Liberation Sans" font-size="15.6" font-weight="normal" fill="#1a1a1a" textLength="8.70" lengthAdjust="spacingAndGlyphs" stroke="#222" stroke-width="0.25">Y</text>
<text x="1190.70" y="739.00" font-family="Liberation Sans" font-size="15.6" font-weight="normal" fill="#1a1a1a" textLength="26.60" lengthAdjust="spacingAndGlyphs" stroke="#222" stroke-width="0.25">Y^X</text>
<text x="1235.20" y="739.00" font-family="Liberation Sans" font-size="15.6" font-weight="normal" fill="#1a1a1a" textLength="8.70" lengthAdjust="spacingAndGlyphs" stroke="#222" stroke-width="0.25">X</text>
<ellipse cx="1227.90" cy="844.30" rx="41.52" ry="37.33" fill="#ed1c24"/>
<g clip-path="url(#d29)" fill="none" stroke="#a8161d" stroke-width="5.6" opacity="0.75"><ellipse cx="1189.00" cy="844.40" rx="38.62" ry="39.42"/><ellipse cx="1227.90" cy="844.30" rx="41.52" ry="37.33"/></g>
<ellipse cx="1227.90" cy="844.30" rx="41.52" ry="37.33" fill="#fff200" clip-path="url(#c29)"/>
<ellipse cx="1189.00" cy="844.40" rx="38.62" ry="39.42" fill="none" stroke="#000" stroke-width="2.75"/>
<ellipse cx="1227.90" cy="844.30" rx="41.52" ry="37.33" fill="none" stroke="#000" stroke-width="2.75"/>
<text x="1168.80" y="850.00" font-family="Liberation Sans" font-size="15.6" font-weight="normal" fill="#1a1a1a" textLength="8.70" lengthAdjust="spacingAndGlyphs" stroke="#222" stroke-width="0.25">Y</text>
<text x="1194.70" y="850.00" font-family="Liberation Sans" font-size="15.6" font-weight="normal" fill="#1a1a1a" textLength="26.60" lengthAdjust="spacingAndGlyphs" stroke="#222" stroke-width="0.25">Y^X</text>
<text x="1239.20" y="850.00" font-family="Liberation Sans" font-size="15.6" font-weight="normal" fill="#1a1a1a" textLength="8.70" lengthAdjust="spacingAndGlyphs" stroke="#fbdcdc" stroke-width="2.2" paint-order="stroke" stroke-linejoin="miter">X</text>
<ellipse cx="1229.40" cy="955.30" rx="41.52" ry="37.33" fill="#fff200" clip-path="url(#c30)"/>
<ellipse cx="1190.50" cy="955.40" rx="38.62" ry="39.42" fill="none" stroke="#000" stroke-width="2.75"/>
<ellipse cx="1229.40" cy="955.30" rx="41.52" ry="37.33" fill="none" stroke="#000" stroke-width="2.75"/>
<text x="1170.30" y="961.00" font-family="Liberation Sans" font-size="15.6" font-weight="normal" fill="#1a1a1a" textLength="8.70" lengthAdjust="spacingAndGlyphs" stroke="#222" stroke-width="0.25">Y</text>
<text x="1196.20" y="961.00" font-family="Liberation Sans" font-size="15.6" font-weight="normal" fill="#1a1a1a" textLength="26.60" lengthAdjust="spacingAndGlyphs" stroke="#222" stroke-width="0.25">Y^X</text>
<text x="1240.70" y="961.00" font-family="Liberation Sans" font-size="15.6" font-weight="normal" fill="#1a1a1a" textLength="8.70" lengthAdjust="spacingAndGlyphs" stroke="#222" stroke-width="0.25">X</text>
<ellipse cx="1230.40" cy="1074.80" rx="41.52" ry="37.33" fill="#ed1c24"/>
<g clip-path="url(#d31)" fill="none" stroke="#a8161d" stroke-width="5.6" opacity="0.75"><ellipse cx="1191.50" cy="1074.90" rx="38.62" ry="39.42"/><ellipse cx="1230.40" cy="1074.80" rx="41.52" ry="37.33"/></g>
<ellipse cx="1230.40" cy="1074.80" rx="41.52" ry="37.33" fill="#ffffff" clip-path="url(#c31)"/>
<ellipse cx="1191.50" cy="1074.90" rx="38.62" ry="39.42" fill="none" stroke="#000" stroke-width="2.75"/>
<ellipse cx="1230.40" cy="1074.80" rx="41.52" ry="37.33" fill="none" stroke="#000" stroke-width="2.75"/>
<text x="1171.30" y="1080.50" font-family="Liberation Sans" font-size="15.6" font-weight="normal" fill="#1a1a1a" textLength="8.70" lengthAdjust="spacingAndGlyphs" stroke="#222" stroke-width="0.25">Y</text>
<text x="1197.20" y="1080.50" font-family="Liberation Sans" font-size="15.6" font-weight="normal" fill="#1a1a1a" textLength="26.60" lengthAdjust="spacingAndGlyphs" stroke="#222" stroke-width="0.25">Y^X</text>
<text x="1241.70" y="1080.50" font-family="Liberation Sans" font-size="15.6" font-weight="normal" fill="#1a1a1a" textLength="8.70" lengthAdjust="spacingAndGlyphs" stroke="#fbdcdc" stroke-width="2.2" paint-order="stroke" stroke-linejoin="miter">X</text>
<ellipse cx="1193.50" cy="1174.90" rx="38.62" ry="39.42" fill="none" stroke="#000" stroke-width="2.75"/>
<ellipse cx="1232.40" cy="1174.80" rx="41.52" ry="37.33" fill="none" stroke="#000" stroke-width="2.75"/>
<text x="1173.30" y="1180.50" font-family="Liberation Sans" font-size="15.6" font-weight="normal" fill="#1a1a1a" textLength="8.70" lengthAdjust="spacingAndGlyphs" stroke="#222" stroke-width="0.25">Y</text>
<text x="1199.20" y="1180.50" font-family="Liberation Sans" font-size="15.6" font-weight="normal" fill="#1a1a1a" textLength="26.60" lengthAdjust="spacingAndGlyphs" stroke="#222" stroke-width="0.25">Y^X</text>
<text x="1243.70" y="1180.50" font-family="Liberation Sans" font-size="15.6" font-weight="normal" fill="#1a1a1a" textLength="8.70" lengthAdjust="spacingAndGlyphs" stroke="#222" stroke-width="0.25">X</text>
<text x="83.00" y="389.00" font-family="Liberation Sans" font-size="16.5" font-weight="bold" fill="#111" textLength="37.70" lengthAdjust="spacingAndGlyphs" stroke="#111" stroke-width="0.25">X ^ Y</text>
<text x="126.50" y="389.00" font-family="Liberation Sans" font-size="16.5" font-weight="bold" fill="#111" textLength="47.50" lengthAdjust="spacingAndGlyphs" stroke="#111" stroke-width="0.25">(0001)</text>
<path d="M115 405.7 H125.2 V410.5" fill="none" stroke="#111" stroke-width="1.7"/>
<text x="130.50" y="415.00" font-family="Liberation Sans" font-size="15.7" font-weight="bold" fill="#aa404a" textLength="36.50" lengthAdjust="spacingAndGlyphs" filter="url(#glow)">0001</text>
<text x="109.00" y="501.00" font-family="Liberation Sans" font-size="16.5" font-weight="bold" fill="#111" textLength="8.70" lengthAdjust="spacingAndGlyphs" stroke="#111" stroke-width="0.25">Y</text>
<text x="123.50" y="501.00" font-family="Liberation Sans" font-size="16.5" font-weight="bold" fill="#111" textLength="47.50" lengthAdjust="spacingAndGlyphs" stroke="#111" stroke-width="0.25">(0011)</text>
<path d="M113 513.7 H123.2 V518" fill="none" stroke="#111" stroke-width="1.7"/>
<text x="137.50" y="526.00" font-family="Liberation Sans" font-size="15.7" font-weight="bold" fill="#aa404a" textLength="36.50" lengthAdjust="spacingAndGlyphs" filter="url(#glow)">0011</text>
<text x="60.50" y="612.50" font-family="Liberation Sans" font-size="16.5" font-weight="bold" fill="#111" textLength="55.20" lengthAdjust="spacingAndGlyphs" stroke="#111" stroke-width="0.25">X &lt;=&gt; Y</text>
<text x="121.50" y="612.50" font-family="Liberation Sans" font-size="16.5" font-weight="bold" fill="#111" textLength="47.50" lengthAdjust="spacingAndGlyphs" stroke="#111" stroke-width="0.25">(0101)</text>
<path d="M109 623.2 H119.2 V627.5" fill="none" stroke="#111" stroke-width="1.7"/>
<text x="126.00" y="634.00" font-family="Liberation Sans" font-size="15.7" font-weight="bold" fill="#aa404a" textLength="36.00" lengthAdjust="spacingAndGlyphs" filter="url(#glow)">1001</text>
<text x="70.00" y="725.00" font-family="Liberation Sans" font-size="16.5" font-weight="bold" fill="#111" textLength="41.70" lengthAdjust="spacingAndGlyphs" stroke="#111" stroke-width="0.25">X -&gt; Y</text>
<text x="117.50" y="725.00" font-family="Liberation Sans" font-size="16.5" font-weight="bold" fill="#111" textLength="47.50" lengthAdjust="spacingAndGlyphs" stroke="#111" stroke-width="0.25">(0111)</text>
<path d="M110.5 736.2 H119.7 V740.5" fill="none" stroke="#111" stroke-width="1.7"/>
<text x="128.00" y="745.50" font-family="Liberation Sans" font-size="15.7" font-weight="bold" fill="#aa404a" textLength="36.00" lengthAdjust="spacingAndGlyphs" filter="url(#glow)">1011</text>
<text x="95.50" y="836.00" font-family="Liberation Sans" font-size="16.5" font-weight="bold" fill="#111" textLength="9.20" lengthAdjust="spacingAndGlyphs" stroke="#111" stroke-width="0.25">X</text>
<text x="110.50" y="836.00" font-family="Liberation Sans" font-size="16.5" font-weight="bold" fill="#111" textLength="47.50" lengthAdjust="spacingAndGlyphs" stroke="#111" stroke-width="0.25">(1001)</text>
<path d="M105 847.7 H115.2 V852" fill="none" stroke="#111" stroke-width="1.7"/>
<text x="124.00" y="857.00" font-family="Liberation Sans" font-size="15.7" font-weight="bold" fill="#aa404a" textLength="37.00" lengthAdjust="spacingAndGlyphs" filter="url(#glow)">0101</text>
<text x="70.50" y="935.00" font-family="Liberation Sans" font-size="16.5" font-weight="bold" fill="#111" textLength="36.20" lengthAdjust="spacingAndGlyphs" stroke="#111" stroke-width="0.25">X v Y</text>
<text x="112.50" y="935.00" font-family="Liberation Sans" font-size="16.5" font-weight="bold" fill="#111" textLength="47.50" lengthAdjust="spacingAndGlyphs" stroke="#111" stroke-width="0.25">(1011)</text>
<path d="M107 952.7 H116.7 V957" fill="none" stroke="#111" stroke-width="1.7"/>
<text x="121.00" y="963.00" font-family="Liberation Sans" font-size="15.7" font-weight="bold" fill="#aa404a" textLength="36.50" lengthAdjust="spacingAndGlyphs" filter="url(#glow)">0111</text>
<text x="70.50" y="1057.00" font-family="Liberation Sans" font-size="16.5" font-weight="bold" fill="#111" textLength="42.20" lengthAdjust="spacingAndGlyphs" stroke="#111" stroke-width="0.25">X &lt;- Y</text>
<text x="118.50" y="1057.00" font-family="Liberation Sans" font-size="16.5" font-weight="bold" fill="#111" textLength="47.50" lengthAdjust="spacingAndGlyphs" stroke="#111" stroke-width="0.25">(1101)</text>
<path d="M109 1065.7 H118.2 V1070" fill="none" stroke="#111" stroke-width="1.7"/>
<text x="127.00" y="1075.00" font-family="Liberation Sans" font-size="15.7" font-weight="bold" fill="#aa404a" textLength="35.50" lengthAdjust="spacingAndGlyphs" filter="url(#glow)">1101</text>
<text x="114.00" y="1168.00" font-family="Liberation Sans" font-size="16.5" font-weight="bold" fill="#111" textLength="7.40" lengthAdjust="spacingAndGlyphs" stroke="#111" stroke-width="0.25">1</text>
<text x="123.00" y="1168.00" font-family="Liberation Sans" font-size="16.5" font-weight="bold" fill="#111" textLength="47.50" lengthAdjust="spacingAndGlyphs" stroke="#111" stroke-width="0.25">(1111)</text>
<path d="M113 1175.2 H123.2 V1179.5" fill="none" stroke="#111" stroke-width="1.7"/>
<text x="130.00" y="1186.00" font-family="Liberation Sans" font-size="15.7" font-weight="bold" fill="#aa404a" textLength="35.50" lengthAdjust="spacingAndGlyphs" filter="url(#glow)">1111</text>
<text x="568.00" y="399.50" font-family="Liberation Sans" font-size="16.5" font-weight="bold" fill="#111" textLength="30.20" lengthAdjust="spacingAndGlyphs" stroke="#111" stroke-width="0.25">X | Y</text>
<text x="604.00" y="399.50" font-family="Liberation Sans" font-size="16.5" font-weight="bold" fill="#111" textLength="47.50" lengthAdjust="spacingAndGlyphs" stroke="#111" stroke-width="0.25">(1110)</text>
<text x="611.00" y="422.50" font-family="Liberation Sans" font-size="15.7" font-weight="bold" fill="#aa404a" textLength="36.00" lengthAdjust="spacingAndGlyphs" filter="url(#glow)">1110</text>
<text x="567.50" y="502.80" font-family="Liberation Sans" font-size="13" font-weight="bold" fill="#111" textLength="11.80" lengthAdjust="spacingAndGlyphs" stroke="#111" stroke-width="0.25">-Y</text>
<text x="587.30" y="503.60" font-family="Liberation Sans" font-size="16.5" font-weight="bold" fill="#111" textLength="47.50" lengthAdjust="spacingAndGlyphs" stroke="#111" stroke-width="0.25">(1100)</text>
<text x="593.00" y="525.80" font-family="Liberation Sans" font-size="15.7" font-weight="bold" fill="#aa404a" textLength="36.00" lengthAdjust="spacingAndGlyphs" filter="url(#glow)">1100</text>
<text x="565.30" y="612.50" font-family="Liberation Sans" font-size="16.5" font-weight="bold" fill="#111" textLength="9.00" lengthAdjust="spacingAndGlyphs" stroke="#111" stroke-width="0.25">X</text>
<text x="580.50" y="612.50" font-family="Liberation Sans" font-size="16.5" font-weight="bold" fill="#111" textLength="7.30" lengthAdjust="spacingAndGlyphs" stroke="#111" stroke-width="0.25">v</text>
<rect x="580.2" y="615" width="8" height="1.6" fill="#111"/>
<text x="593.40" y="612.50" font-family="Liberation Sans" font-size="16.5" font-weight="bold" fill="#111" textLength="8.60" lengthAdjust="spacingAndGlyphs" stroke="#111" stroke-width="0.25">Y</text>
<text x="607.80" y="612.50" font-family="Liberation Sans" font-size="16.5" font-weight="bold" fill="#111" textLength="47.50" lengthAdjust="spacingAndGlyphs" stroke="#111" stroke-width="0.25">(1010)</text>
<text x="615.00" y="640.20" font-family="Liberation Sans" font-size="15.7" font-weight="bold" fill="#aa404a" textLength="36.10" lengthAdjust="spacingAndGlyphs" filter="url(#glow)">0110</text>
<text x="570.00" y="727.00" font-family="Liberation Sans" font-size="16.5" font-weight="bold" fill="#111" textLength="41.70" lengthAdjust="spacingAndGlyphs" stroke="#111" stroke-width="0.25">X ^ -Y</text>
<text x="617.50" y="727.00" font-family="Liberation Sans" font-size="16.5" font-weight="bold" fill="#111" textLength="47.50" lengthAdjust="spacingAndGlyphs" stroke="#111" stroke-width="0.25">(1000)</text>
<text x="622.50" y="750.00" font-family="Liberation Sans" font-size="15.7" font-weight="bold" fill="#aa404a" textLength="37.00" lengthAdjust="spacingAndGlyphs" filter="url(#glow)">0100</text>
<text x="578.00" y="836.00" font-family="Liberation Sans" font-size="16.5" font-weight="bold" fill="#111" textLength="15.00" lengthAdjust="spacingAndGlyphs" stroke="#111" stroke-width="0.25">-X</text>
<text x="603.00" y="836.00" font-family="Liberation Sans" font-size="16.5" font-weight="bold" fill="#111" textLength="48.00" lengthAdjust="spacingAndGlyphs" stroke="#111" stroke-width="0.25">(0110)</text>
<text x="609.00" y="863.00" font-family="Liberation Sans" font-size="15.7" font-weight="bold" fill="#aa404a" textLength="36.00" lengthAdjust="spacingAndGlyphs" filter="url(#glow)">1010</text>
<text x="580.30" y="938.50" font-family="Liberation Sans" font-size="16.5" font-weight="bold" fill="#111" textLength="9.30" lengthAdjust="spacingAndGlyphs" stroke="#111" stroke-width="0.25">X</text>
<path d="M596.6 924.3 V940 M590.6 933 L596.6 940 L602.6 933" fill="none" stroke="#111" stroke-width="2.4" stroke-linejoin="miter"/>
<text x="603.40" y="938.50" font-family="Liberation Sans" font-size="16.5" font-weight="bold" fill="#111" textLength="8.30" lengthAdjust="spacingAndGlyphs" stroke="#111" stroke-width="0.25">Y</text>
<text x="617.50" y="938.50" font-family="Liberation Sans" font-size="16.5" font-weight="bold" fill="#111" textLength="47.50" lengthAdjust="spacingAndGlyphs" stroke="#111" stroke-width="0.25">(0100)</text>
<text x="624.00" y="963.00" font-family="Liberation Sans" font-size="15.7" font-weight="bold" fill="#aa404a" textLength="36.00" lengthAdjust="spacingAndGlyphs" filter="url(#glow)">1000</text>
<text x="588.00" y="1057.00" font-family="Liberation Sans" font-size="16.5" font-weight="bold" fill="#111" textLength="43.20" lengthAdjust="spacingAndGlyphs" stroke="#111" stroke-width="0.25">-X ^ Y</text>
<text x="637.00" y="1057.00" font-family="Liberation Sans" font-size="16.5" font-weight="bold" fill="#111" textLength="47.50" lengthAdjust="spacingAndGlyphs" stroke="#111" stroke-width="0.25">(0010)</text>
<text x="639.00" y="1085.00" font-family="Liberation Sans" font-size="15.7" font-weight="bold" fill="#aa404a" textLength="37.00" lengthAdjust="spacingAndGlyphs" filter="url(#glow)">0010</text>
<text x="587.50" y="1169.00" font-family="Liberation Sans" font-size="16.5" font-weight="bold" fill="#111" textLength="8.70" lengthAdjust="spacingAndGlyphs" stroke="#111" stroke-width="0.25">0</text>
<text x="602.00" y="1169.00" font-family="Liberation Sans" font-size="16.5" font-weight="bold" fill="#111" textLength="47.50" lengthAdjust="spacingAndGlyphs" stroke="#111" stroke-width="0.25">(0000)</text>
<text x="607.00" y="1198.00" font-family="Liberation Sans" font-size="15.7" font-weight="bold" fill="#aa404a" textLength="37.00" lengthAdjust="spacingAndGlyphs" filter="url(#glow)">0000</text>
<text x="785.00" y="397.00" font-family="Liberation Sans" font-size="16.5" font-weight="bold" fill="#111" textLength="8.70" lengthAdjust="spacingAndGlyphs" stroke="#111" stroke-width="0.25">1</text>
<text x="799.50" y="397.00" font-family="Liberation Sans" font-size="16.5" font-weight="bold" fill="#111" textLength="47.50" lengthAdjust="spacingAndGlyphs" stroke="#111" stroke-width="0.25">(1111)</text>
<text x="806.50" y="419.50" font-family="Liberation Sans" font-size="15.7" font-weight="bold" fill="#aa404a" textLength="35.50" lengthAdjust="spacingAndGlyphs" filter="url(#glow)">1111</text>
<text x="761.00" y="507.50" font-family="Liberation Sans" font-size="16.5" font-weight="bold" fill="#111" textLength="41.70" lengthAdjust="spacingAndGlyphs" stroke="#111" stroke-width="0.25">X -&gt; Y</text>
<text x="808.50" y="507.50" font-family="Liberation Sans" font-size="16.5" font-weight="bold" fill="#111" textLength="47.50" lengthAdjust="spacingAndGlyphs" stroke="#111" stroke-width="0.25">(1101)</text>
<text x="816.00" y="530.00" font-family="Liberation Sans" font-size="15.7" font-weight="bold" fill="#aa404a" textLength="35.50" lengthAdjust="spacingAndGlyphs" filter="url(#glow)">1101</text>
<text x="765.00" y="617.50" font-family="Liberation Sans" font-size="16.5" font-weight="bold" fill="#111" textLength="36.70" lengthAdjust="spacingAndGlyphs" stroke="#111" stroke-width="0.25">X v Y</text>
<text x="807.50" y="617.50" font-family="Liberation Sans" font-size="16.5" font-weight="bold" fill="#111" textLength="47.50" lengthAdjust="spacingAndGlyphs" stroke="#111" stroke-width="0.25">(1011)</text>
<text x="816.00" y="639.50" font-family="Liberation Sans" font-size="15.7" font-weight="bold" fill="#aa404a" textLength="36.00" lengthAdjust="spacingAndGlyphs" filter="url(#glow)">0111</text>
<text x="773.00" y="725.00" font-family="Liberation Sans" font-size="16.5" font-weight="bold" fill="#111" textLength="10.20" lengthAdjust="spacingAndGlyphs" stroke="#111" stroke-width="0.25">Y</text>
<text x="789.00" y="725.00" font-family="Liberation Sans" font-size="16.5" font-weight="bold" fill="#111" textLength="47.50" lengthAdjust="spacingAndGlyphs" stroke="#111" stroke-width="0.25">(1001)</text>
<text x="794.00" y="746.00" font-family="Liberation Sans" font-size="15.7" font-weight="bold" fill="#aa404a" textLength="37.00" lengthAdjust="spacingAndGlyphs" filter="url(#glow)">0101</text>
<text x="769.50" y="840.00" font-family="Liberation Sans" font-size="16.5" font-weight="bold" fill="#111" textLength="38.20" lengthAdjust="spacingAndGlyphs" stroke="#111" stroke-width="0.25">X &lt;-Y</text>
<text x="813.50" y="840.00" font-family="Liberation Sans" font-size="16.5" font-weight="bold" fill="#111" textLength="47.50" lengthAdjust="spacingAndGlyphs" stroke="#111" stroke-width="0.25">(0111)</text>
<text x="818.00" y="863.00" font-family="Liberation Sans" font-size="15.7" font-weight="bold" fill="#aa404a" textLength="35.50" lengthAdjust="spacingAndGlyphs" filter="url(#glow)">1011</text>
<text x="754.50" y="937.00" font-family="Liberation Sans" font-size="16.5" font-weight="bold" fill="#111" textLength="55.20" lengthAdjust="spacingAndGlyphs" stroke="#111" stroke-width="0.25">X &lt;=&gt; Y</text>
<text x="815.50" y="937.00" font-family="Liberation Sans" font-size="16.5" font-weight="bold" fill="#111" textLength="47.50" lengthAdjust="spacingAndGlyphs" stroke="#111" stroke-width="0.25">(0101)</text>
<text x="819.00" y="960.00" font-family="Liberation Sans" font-size="15.7" font-weight="bold" fill="#aa404a" textLength="35.50" lengthAdjust="spacingAndGlyphs" filter="url(#glow)">1001</text>
<text x="791.00" y="1063.00" font-family="Liberation Sans" font-size="16.5" font-weight="bold" fill="#111" textLength="9.20" lengthAdjust="spacingAndGlyphs" stroke="#111" stroke-width="0.25">X</text>
<text x="806.00" y="1063.00" font-family="Liberation Sans" font-size="16.5" font-weight="bold" fill="#111" textLength="47.50" lengthAdjust="spacingAndGlyphs" stroke="#111" stroke-width="0.25">(0011)</text>
<text x="812.00" y="1086.00" font-family="Liberation Sans" font-size="15.7" font-weight="bold" fill="#aa404a" textLength="36.00" lengthAdjust="spacingAndGlyphs" filter="url(#glow)">0011</text>
<text x="786.00" y="1169.00" font-family="Liberation Sans" font-size="16.5" font-weight="bold" fill="#111" textLength="36.70" lengthAdjust="spacingAndGlyphs" stroke="#111" stroke-width="0.25">X ^ Y</text>
<text x="828.50" y="1169.00" font-family="Liberation Sans" font-size="16.5" font-weight="bold" fill="#111" textLength="47.50" lengthAdjust="spacingAndGlyphs" stroke="#111" stroke-width="0.25">(0001)</text>
<text x="833.00" y="1191.00" font-family="Liberation Sans" font-size="15.7" font-weight="bold" fill="#aa404a" textLength="36.00" lengthAdjust="spacingAndGlyphs" filter="url(#glow)">0001</text>
<path d="M1259.80 382.50 h4.00 l-0.9 9.57 h-2.20 z" fill="#111"/>
<rect x="1260.20" y="393.60" width="3.20" height="3.4" fill="#111"/>
<text x="1265.50" y="396.00" font-family="Liberation Sans" font-size="16.5" font-weight="bold" fill="#111" textLength="31.70" lengthAdjust="spacingAndGlyphs" stroke="#111" stroke-width="0.25">X | Y</text>
<text x="1303.00" y="396.00" font-family="Liberation Sans" font-size="16.5" font-weight="bold" fill="#111" textLength="47.50" lengthAdjust="spacingAndGlyphs" stroke="#111" stroke-width="0.25">(1110)</text>
<text x="1312.00" y="419.50" font-family="Liberation Sans" font-size="15.7" font-weight="bold" fill="#aa404a" textLength="36.50" lengthAdjust="spacingAndGlyphs" filter="url(#glow)">1110</text>
<path d="M1265.30 494.00 h4.00 l-0.9 9.24 h-2.20 z" fill="#111"/>
<rect x="1265.70" y="504.60" width="3.20" height="3.4" fill="#111"/>
<text x="1273.50" y="507.50" font-family="Liberation Sans" font-size="16.5" font-weight="bold" fill="#111" textLength="14.20" lengthAdjust="spacingAndGlyphs" stroke="#111" stroke-width="0.25">-X</text>
<text x="1293.50" y="507.50" font-family="Liberation Sans" font-size="16.5" font-weight="bold" fill="#111" textLength="47.50" lengthAdjust="spacingAndGlyphs" stroke="#111" stroke-width="0.25">(1100)</text>
<text x="1302.00" y="530.50" font-family="Liberation Sans" font-size="15.7" font-weight="bold" fill="#aa404a" textLength="37.00" lengthAdjust="spacingAndGlyphs" filter="url(#glow)">1100</text>
<path d="M1268.50 603.50 h4.00 l-0.9 10.23 h-2.20 z" fill="#111"/>
<rect x="1268.90" y="615.60" width="3.20" height="3.4" fill="#111"/>
<text x="1278.30" y="617.40" font-family="Liberation Sans" font-size="16.5" font-weight="bold" fill="#111" textLength="8.90" lengthAdjust="spacingAndGlyphs" stroke="#111" stroke-width="0.25">X</text>
<text x="1292.40" y="617.40" font-family="Liberation Sans" font-size="16.5" font-weight="bold" fill="#111" textLength="7.60" lengthAdjust="spacingAndGlyphs" stroke="#111" stroke-width="0.25">v</text>
<rect x="1292" y="620" width="8.8" height="1.6" fill="#111"/>
<text x="1305.70" y="617.40" font-family="Liberation Sans" font-size="16.5" font-weight="bold" fill="#111" textLength="8.60" lengthAdjust="spacingAndGlyphs" stroke="#111" stroke-width="0.25">Y</text>
<text x="1320.10" y="617.40" font-family="Liberation Sans" font-size="16.5" font-weight="bold" fill="#111" textLength="47.50" lengthAdjust="spacingAndGlyphs" stroke="#111" stroke-width="0.25">(1010)</text>
<text x="1326.60" y="639.80" font-family="Liberation Sans" font-size="15.7" font-weight="bold" fill="#aa404a" textLength="36.40" lengthAdjust="spacingAndGlyphs" filter="url(#glow)">0110</text>
<path d="M1268.30 711.00 h4.00 l-0.9 9.57 h-2.20 z" fill="#111"/>
<rect x="1268.70" y="722.10" width="3.20" height="3.4" fill="#111"/>
<text x="1276.00" y="723.50" font-family="Liberation Sans" font-size="16.5" font-weight="bold" fill="#111" textLength="41.70" lengthAdjust="spacingAndGlyphs" stroke="#111" stroke-width="0.25">-X ^ Y</text>
<text x="1323.50" y="723.50" font-family="Liberation Sans" font-size="16.5" font-weight="bold" fill="#111" textLength="47.50" lengthAdjust="spacingAndGlyphs" stroke="#111" stroke-width="0.25">(1000)</text>
<text x="1330.00" y="745.50" font-family="Liberation Sans" font-size="15.7" font-weight="bold" fill="#aa404a" textLength="36.50" lengthAdjust="spacingAndGlyphs" filter="url(#glow)">0100</text>
<path d="M1278.30 827.00 h4.00 l-0.9 9.57 h-2.20 z" fill="#111"/>
<rect x="1278.70" y="838.10" width="3.20" height="3.4" fill="#111"/>
<rect x="1288.8" y="834.2" width="4" height="1.3" fill="#222"/>
<text x="1299.60" y="841.60" font-family="Liberation Sans" font-size="13" font-weight="bold" fill="#111" textLength="11.80" lengthAdjust="spacingAndGlyphs" stroke="#111" stroke-width="0.25">-Y</text>
<text x="1319.40" y="842.40" font-family="Liberation Sans" font-size="16.5" font-weight="bold" fill="#111" textLength="47.60" lengthAdjust="spacingAndGlyphs" stroke="#111" stroke-width="0.25">(1100)</text>
<text x="1331.20" y="867.50" font-family="Liberation Sans" font-size="15.7" font-weight="bold" fill="#aa404a" textLength="36.10" lengthAdjust="spacingAndGlyphs" filter="url(#glow)">1010</text>
<path d="M1278.30 935.00 h4.00 l-0.9 9.24 h-2.20 z" fill="#111"/>
<rect x="1278.70" y="945.60" width="3.20" height="3.4" fill="#111"/>
<text x="1286.90" y="948.30" font-family="Liberation Sans" font-size="16.5" font-weight="bold" fill="#111" textLength="9.10" lengthAdjust="spacingAndGlyphs" stroke="#111" stroke-width="0.25">X</text>
<path d="M1305 936 V950.2 M1298.3 944.0 L1305 950.2 L1311.7 944.0" fill="none" stroke="#111" stroke-width="2.4" stroke-linejoin="miter"/>
<text x="1314.00" y="948.30" font-family="Liberation Sans" font-size="16.5" font-weight="bold" fill="#111" textLength="9.10" lengthAdjust="spacingAndGlyphs" stroke="#111" stroke-width="0.25">Y</text>
<text x="1328.90" y="948.30" font-family="Liberation Sans" font-size="16.5" font-weight="bold" fill="#111" textLength="47.50" lengthAdjust="spacingAndGlyphs" stroke="#111" stroke-width="0.25">(0100)</text>
<text x="1333.00" y="971.00" font-family="Liberation Sans" font-size="15.7" font-weight="bold" fill="#aa404a" textLength="36.00" lengthAdjust="spacingAndGlyphs" filter="url(#glow)">1000</text>
<path d="M1278.30 1050.00 h4.00 l-0.9 9.57 h-2.20 z" fill="#111"/>
<rect x="1278.70" y="1061.10" width="3.20" height="3.4" fill="#111"/>
<text x="1285.00" y="1064.00" font-family="Liberation Sans" font-size="16.5" font-weight="bold" fill="#111" textLength="41.70" lengthAdjust="spacingAndGlyphs" stroke="#111" stroke-width="0.25">X ^ -Y</text>
<text x="1332.50" y="1064.00" font-family="Liberation Sans" font-size="16.5" font-weight="bold" fill="#111" textLength="47.50" lengthAdjust="spacingAndGlyphs" stroke="#111" stroke-width="0.25">(0010)</text>
<text x="1339.00" y="1086.00" font-family="Liberation Sans" font-size="15.7" font-weight="bold" fill="#aa404a" textLength="37.00" lengthAdjust="spacingAndGlyphs" filter="url(#glow)">0010</text>
<path d="M1278.40 1153.50 h4.00 l-0.9 10.23 h-2.20 z" fill="#111"/>
<rect x="1278.80" y="1165.60" width="3.20" height="3.4" fill="#111"/>
<text x="1286.90" y="1168.60" font-family="Liberation Sans" font-size="16" font-weight="bold" fill="#111" textLength="8.20" lengthAdjust="spacingAndGlyphs" stroke="#111" stroke-width="0.25">0</text>
<text x="1300.40" y="1168.60" font-family="Liberation Sans" font-size="16.5" font-weight="bold" fill="#111" textLength="48.00" lengthAdjust="spacingAndGlyphs" stroke="#111" stroke-width="0.25">(0000)</text>
<text x="1309.00" y="1191.00" font-family="Liberation Sans" font-size="15.7" font-weight="bold" fill="#aa404a" textLength="37.00" lengthAdjust="spacingAndGlyphs" filter="url(#glow)">0000</text>
<rect x="100.5" y="1151" width="1" height="16" fill="#dcdcdc"/>
</svg>
</body>
</html>
